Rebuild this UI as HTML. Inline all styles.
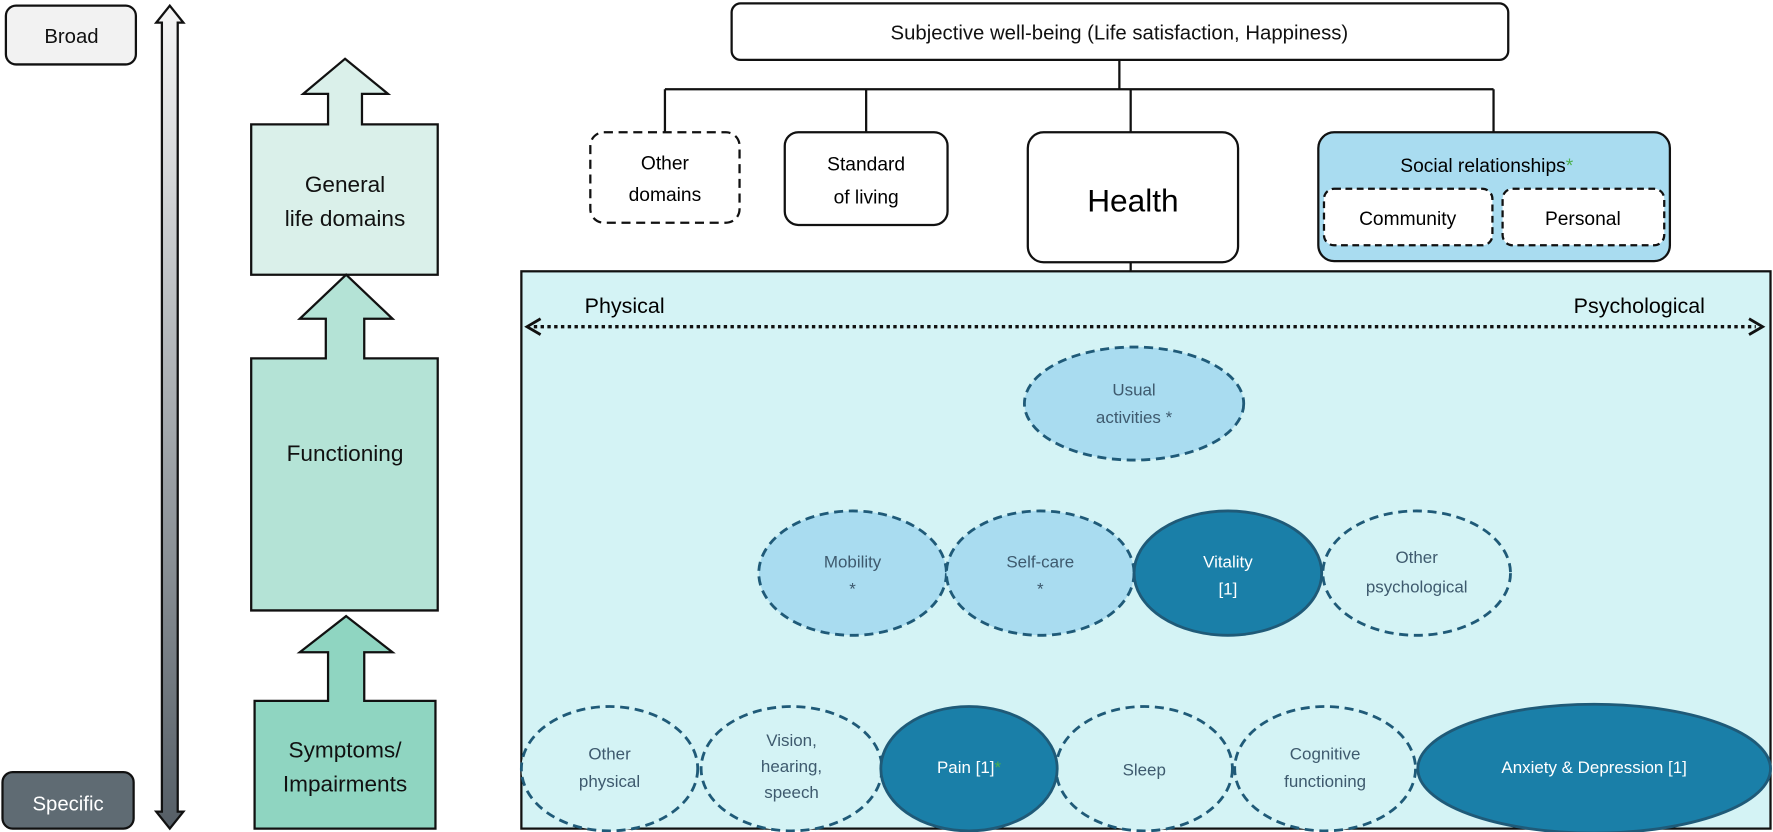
<!DOCTYPE html>
<html><head><style>html,body{margin:0;padding:0;background:#fff}svg{display:block}text{font-family:"Liberation Sans",sans-serif}</style></head>
<body>
<svg width="1773" height="832" viewBox="0 0 1568 736" xmlns="http://www.w3.org/2000/svg">
<defs>
<linearGradient id="g" x1="0" y1="0" x2="0" y2="1"><stop offset="0" stop-color="#f6f6f6"/><stop offset="1" stop-color="#555e66"/></linearGradient>
</defs>
<rect x="5" y="5" width="115" height="52" rx="9" fill="#f2f2f2" stroke="#111" stroke-width="2"/>
<text x="63" y="38" font-size="18" text-anchor="middle" fill="#111">Broad</text>
<rect x="2" y="683" width="116" height="50" rx="9" fill="#5f6b73" stroke="#111" stroke-width="2"/>
<text x="60" y="717" font-size="18" text-anchor="middle" fill="#fff">Specific</text>
<path d="M150 5 L162 20 L157 20 L157 718 L162 718 L150 733 L138 718 L143 718 L143 20 L138 20 Z" fill="url(#g)" stroke="#111" stroke-width="2"/>
<path d="M305 52 L343 83 L320 83 L320 110 L387 110 L387 243 L222 243 L222 110 L290 110 L290 83 L268 83 Z" fill="#daf0ea" stroke="#111" stroke-width="2"/>
<text x="305" y="170" font-size="20" text-anchor="middle" fill="#111">General</text>
<text x="305" y="200" font-size="20" text-anchor="middle" fill="#111">life domains</text>
<path d="M306 243 L347 282 L322 282 L322 317 L387 317 L387 540 L222 540 L222 317 L288 317 L288 282 L265 282 Z" fill="#b4e3d6" stroke="#111" stroke-width="2"/>
<text x="305" y="408" font-size="20" text-anchor="middle" fill="#111">Functioning</text>
<path d="M306 545 L347 577 L322 577 L322 620 L385 620 L385 733 L225 733 L225 620 L290 620 L290 577 L265 577 Z" fill="#8fd5c1" stroke="#111" stroke-width="2"/>
<text x="305" y="670" font-size="20" text-anchor="middle" fill="#111">Symptoms/</text>
<text x="305" y="700" font-size="20" text-anchor="middle" fill="#111">Impairments</text>
<rect x="647" y="3" width="687" height="50" rx="8" fill="#fff" stroke="#111" stroke-width="2"/>
<text x="990" y="35" font-size="18" text-anchor="middle" fill="#111">Subjective well-being (Life satisfaction, Happiness)</text>
<g stroke="#111" stroke-width="2" fill="none">
<path d="M990 53 V79 M588 79 H1321 M588 79 V117 M766 79 V117 M1000 79 V117 M1321 79 V117 M1000 232 V240"/>
</g>
<rect x="522" y="117" width="132" height="80" rx="12" fill="#fff" stroke="#111" stroke-width="2" stroke-dasharray="8,5"/>
<text x="588" y="150" font-size="17" text-anchor="middle">Other</text>
<text x="588" y="178" font-size="17" text-anchor="middle">domains</text>
<rect x="694" y="117" width="144" height="82" rx="12" fill="#fff" stroke="#111" stroke-width="2"/>
<text x="766" y="151" font-size="17" text-anchor="middle">Standard</text>
<text x="766" y="180" font-size="17" text-anchor="middle">of living</text>
<rect x="909" y="117" width="186" height="115" rx="14" fill="#fff" stroke="#111" stroke-width="2"/>
<text x="1002" y="187" font-size="28" text-anchor="middle">Health</text>
<rect x="1166" y="117" width="311" height="114" rx="14" fill="#a9dcf0" stroke="#111" stroke-width="2"/>
<text x="1315" y="152" font-size="17" text-anchor="middle">Social relationships<tspan fill="#4caf50">*</tspan></text>
<rect x="1171" y="167" width="149" height="50" rx="9" fill="#fff" stroke="#111" stroke-width="2" stroke-dasharray="6,4"/>
<text x="1245" y="199" font-size="17" text-anchor="middle">Community</text>
<rect x="1329" y="167" width="143" height="50" rx="9" fill="#fff" stroke="#111" stroke-width="2" stroke-dasharray="6,4"/>
<text x="1400" y="199" font-size="17" text-anchor="middle">Personal</text>
<rect x="461" y="240" width="1105" height="493" fill="#d4f3f5" stroke="#111" stroke-width="2"/>
<text x="517" y="277" font-size="19">Physical</text>
<text x="1508" y="277" font-size="19" text-anchor="end">Psychological</text>
<line x1="472" y1="289" x2="1553" y2="289" stroke="#111" stroke-width="3" stroke-dasharray="3,3"/>
<path d="M478 282 L466 289 L478 296 M1547 282 L1559 289 L1547 296" stroke="#111" stroke-width="2.5" fill="none"/>
<g stroke="#1f5a78" stroke-width="2.5" stroke-dasharray="8,5">
<ellipse cx="1003" cy="357" rx="97" ry="50" fill="#a9dcf0"/>
<ellipse cx="754" cy="507" rx="83" ry="55" fill="#a9dcf0"/>
<ellipse cx="920" cy="507" rx="83" ry="55" fill="#a9dcf0"/>
<ellipse cx="1253" cy="507" rx="83" ry="55" fill="#d4f3f5"/>
<ellipse cx="539" cy="680" rx="78" ry="55" fill="#d4f3f5"/>
<ellipse cx="700" cy="680" rx="80" ry="55" fill="#d4f3f5"/>
<ellipse cx="1012" cy="680" rx="78" ry="55" fill="#d4f3f5"/>
<ellipse cx="1172" cy="680" rx="80" ry="55" fill="#d4f3f5"/>
</g>
<g stroke="#1f5a78" stroke-width="2.5" fill="#1a7fa8">
<ellipse cx="1086" cy="507" rx="83" ry="55"/>
<ellipse cx="857" cy="680" rx="78" ry="55"/>
<ellipse cx="1410" cy="680" rx="156" ry="57"/>
</g>
<g font-size="15" text-anchor="middle" fill="#3e5a6e">
<text x="1003" y="350">Usual</text><text x="1003" y="374">activities *</text>
<text x="754" y="502">Mobility</text><text x="754" y="526">*</text>
<text x="920" y="502">Self-care</text><text x="920" y="526">*</text>
<text x="1253" y="498">Other</text><text x="1253" y="524">psychological</text>
<text x="539" y="672">Other</text><text x="539" y="696">physical</text>
<text x="700" y="660">Vision,</text><text x="700" y="683">hearing,</text><text x="700" y="706">speech</text>
<text x="1012" y="686">Sleep</text>
<text x="1172" y="672">Cognitive</text><text x="1172" y="696">functioning</text>
</g>
<g font-size="15" text-anchor="middle" fill="#fff">
<text x="1086" y="502">Vitality</text><text x="1086" y="526">[1]</text>
<text x="857" y="684">Pain [1]<tspan fill="#4caf50">*</tspan></text>
<text x="1410" y="684">Anxiety &amp; Depression [1]</text>
</g>
</svg>
</body></html>
